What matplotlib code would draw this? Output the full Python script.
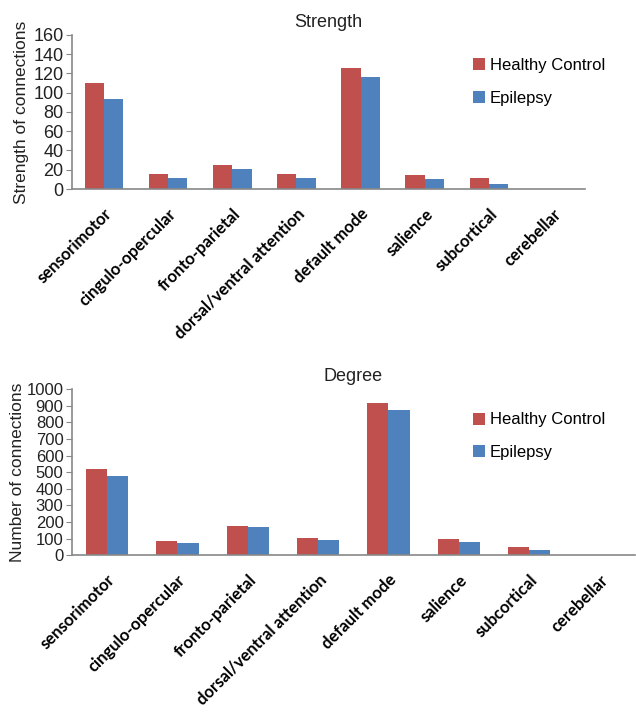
import matplotlib.pyplot as plt
import numpy as np

networks = ["sensorimotor", "cingulo-opercular", "fronto-parietal",
            "dorsal/ventral attention", "default mode", "salience",
            "subcortical", "cerebellar"]

strength_hc = [110, 16, 25, 16, 126, 15, 11, 0]
strength_ep = [94, 11, 21, 11, 116, 10, 5, 0]

degree_hc = [520, 85, 175, 103, 915, 100, 50, 0]
degree_ep = [475, 70, 168, 90, 872, 80, 33, 0]

red = "#C0504D"
blue = "#4F81BD"

plt.rcParams['font.family'] = ['Liberation Sans', 'DejaVu Sans']

fig = plt.figure(figsize=(6.36, 7.2), dpi=100)


def panel(rect, hc, ep, title, ylabel, ymax, step, leg_y, lpad, tsize):
    ax = fig.add_axes(rect)
    x = np.arange(len(networks))
    w = 0.3
    ax.bar(x - w / 2, hc, w, color=red, label="Healthy Control")
    ax.bar(x + w / 2, ep, w, color=blue, label="Epilepsy")
    ax.set_xlim(-0.5, len(networks) - 0.5)
    ax.set_ylim(0, ymax)
    ax.set_yticks(np.arange(0, ymax + 1, step))
    ax.set_xticks(x)
    ax.set_xticklabels(networks, rotation=45, ha='right', rotation_mode='anchor',
                       family='Lato', fontweight='bold', fontsize=12)
    ax.tick_params(axis='x', length=0, pad=12)
    ax.tick_params(axis='y', length=4, color='#888888', labelsize=tsize, pad=2,
                   labelcolor='#222222')
    for s in ['top', 'right']:
        ax.spines[s].set_visible(False)
    for s in ['left', 'bottom']:
        ax.spines[s].set_color('#888888')
        ax.spines[s].set_linewidth(1.2)
    ax.set_title(title, fontsize=13, color='#222222', pad=6)
    ax.set_ylabel(ylabel, fontsize=12.5, color='#222222', labelpad=lpad)
    ax.legend(loc='upper left', bbox_to_anchor=(0.72, leg_y),
              bbox_transform=fig.transFigure, frameon=False, fontsize=12,
              handlelength=0.75, handleheight=0.75, handletextpad=0.25,
              labelspacing=1.05)
    return ax


panel([0.113, 0.7375, 0.807, 0.2139], strength_hc, strength_ep,
      "Strength", "Strength of connections", 160, 20, 0.94, 3, 13)
panel([0.113, 0.229, 0.885, 0.2306], degree_hc, degree_ep,
      "Degree", "Number of connections", 1000, 100, 0.448, 1, 12)

fig.savefig("out.png", dpi=100)
